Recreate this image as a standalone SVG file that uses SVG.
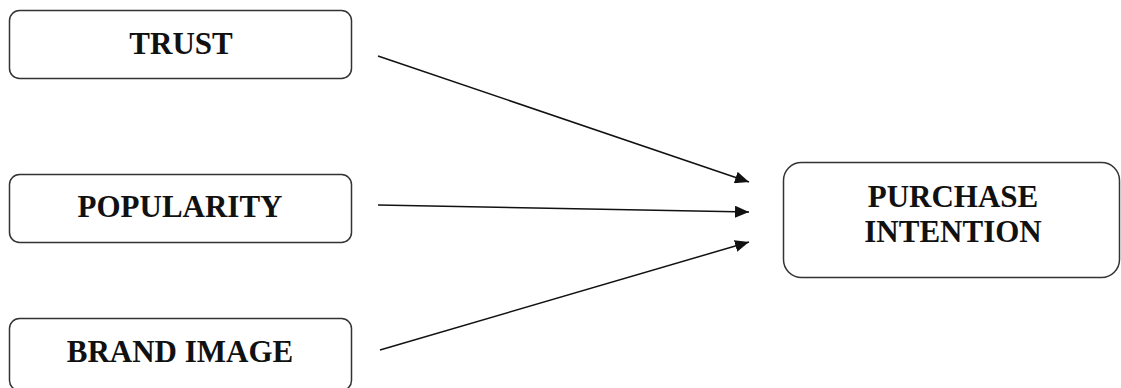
<svg xmlns="http://www.w3.org/2000/svg" width="1121" height="388" viewBox="0 0 1121 388">
<style>
.box{fill:#fff;stroke:#333;stroke-width:1.5}
.lbl{font-family:"Liberation Serif",serif;font-weight:bold;font-size:31px;fill:#111;text-anchor:middle}
.conn{stroke:#111;stroke-width:1.5;fill:none}
</style>
<defs>
<marker id="ah" viewBox="0 0 14 12" refX="14" refY="6" markerWidth="14" markerHeight="12" markerUnits="userSpaceOnUse" orient="auto">
<path d="M0,0 L14,6 L0,12 z" fill="#111"/>
</marker>
</defs>
<rect width="1121" height="388" fill="#fff"/>
<g id="trust"><rect class="box" x="9.5" y="10.5" width="342" height="68" rx="10"/><text class="lbl" x="181" y="54">TRUST</text></g>
<g id="popularity"><rect class="box" x="9.5" y="174.5" width="342" height="68" rx="10"/><text class="lbl" x="180" y="217">POPULARITY</text></g>
<g id="brand-image"><rect class="box" x="9.5" y="318.5" width="342" height="72" rx="10"/><text class="lbl" x="180" y="362">BRAND IMAGE</text></g>
<g id="purchase-intention"><rect class="box" x="783.5" y="162.5" width="336" height="115" rx="18"/><text class="lbl" x="953" y="207">PURCHASE</text><text class="lbl" x="953" y="242">INTENTION</text></g>
<g id="connectors">
<line class="conn" x1="378" y1="56" x2="749" y2="182" marker-end="url(#ah)"/>
<line class="conn" x1="378" y1="205" x2="749" y2="212" marker-end="url(#ah)"/>
<line class="conn" x1="380" y1="350" x2="749" y2="242" marker-end="url(#ah)"/>
</g>
</svg>
